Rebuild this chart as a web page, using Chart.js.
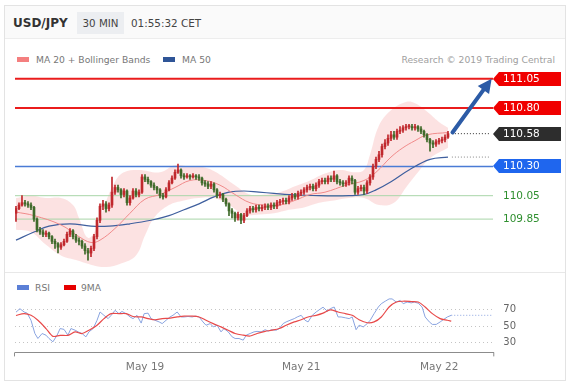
<!DOCTYPE html>
<html>
<head>
<meta charset="utf-8">
<script src="https://cdn.jsdelivr.net/npm/chart.js@4.4.0/dist/chart.umd.min.js"></script>
<style>
  body { margin: 0; background: #fff; font-family: "DejaVu Sans", sans-serif; }
  #wrap { position: relative; width: 569px; height: 386px; overflow: hidden; }
  .card { position: absolute; left: 4px; top: 5px; width: 562px; height: 376px; box-sizing: border-box; border: 1px solid #e3e3e3; }
  .head { position: absolute; left: 5px; top: 6px; width: 560px; height: 32px; background: #fafafa; border-bottom: 1px solid #ededed; }
  .sep { position: absolute; left: 5px; top: 272px; width: 560px; height: 1px; background: #e8e8e8; }
  .t { position: absolute; white-space: nowrap; line-height: 1; }
  .sw { position: absolute; height: 5px; width: 12px; }
  .tf { position: absolute; left: 77px; top: 12px; width: 47px; height: 22px; background: #eceef1; color: #444; font-size: 10.3px; display: flex; align-items: center; justify-content: center; }
  canvas { position: absolute; left: 0; }
</style>
</head>
<body>
<div id="wrap">
  <div class="card"></div>
  <div class="head"></div>
  <div class="sep"></div>
  <div class="t" style="left:13px;top:17px;font-size:12px;font-weight:bold;color:#333;">USD/JPY</div>
  <div class="tf">30 MIN</div>
  <div class="t" style="left:131px;top:18px;font-size:10.4px;color:#444;">01:55:32 CET</div>

  <div class="sw" style="left:17px;top:57px;background:#f47f7f;"></div>
  <div class="t" style="left:36px;top:55px;font-size:9.2px;color:#777;">MA 20 + Bollinger Bands</div>
  <div class="sw" style="left:163px;top:57px;background:#2f5597;"></div>
  <div class="t" style="left:182px;top:55px;font-size:9.2px;color:#777;">MA 50</div>
  <div class="t" style="right:14px;top:55px;font-size:9.2px;color:#a0a0a0;">Research © 2019 Trading Central</div>

  <div class="sw" style="left:17px;top:285px;background:#5b7fd6;"></div>
  <div class="t" style="left:35px;top:283px;font-size:9.2px;color:#777;">RSI</div>
  <div class="sw" style="left:64px;top:285px;background:#e60000;"></div>
  <div class="t" style="left:81px;top:283px;font-size:9.2px;color:#777;">9MA</div>

  <canvas id="price" width="569" height="224" style="top:48px"></canvas>
  <canvas id="rsi" width="569" height="108" style="top:275px"></canvas>
</div>
<script>
// 30 min candles, index 0..144
const firstOpen = 109.90;
const closes = [
  109.94,109.97,109.99,109.98,109.97,109.95,109.85,109.76,109.74,109.72,
  109.73,109.70,109.66,109.64,109.61,109.63,109.66,109.72,109.75,109.70,
  109.67,109.66,109.62,109.58,109.56,109.60,109.70,109.84,109.96,109.98,
  109.94,109.97,110.08,110.12,110.10,110.06,110.09,109.99,110.03,110.09,
  110.06,110.08,110.21,110.19,110.17,110.14,110.12,110.10,110.05,110.04,
  110.10,110.16,110.20,110.25,110.27,110.22,110.21,110.22,110.21,110.22,
  110.21,110.20,110.16,110.15,110.13,110.15,110.10,110.05,110.06,110.02,
  109.98,109.92,109.90,109.86,109.89,109.84,109.88,109.92,109.94,109.93,
  109.95,109.94,109.95,109.96,109.95,109.97,109.96,109.99,110.00,110.01,
  110.00,110.03,110.05,110.04,110.07,110.08,110.10,110.12,110.13,110.11,
  110.14,110.17,110.18,110.17,110.20,110.19,110.22,110.17,110.16,110.15,
  110.16,110.20,110.18,110.08,110.11,110.12,110.09,110.16,110.21,110.30,
  110.36,110.40,110.47,110.50,110.54,110.57,110.55,110.60,110.61,110.63,
  110.64,110.64,110.63,110.64,110.62,110.60,110.57,110.53,110.50,110.49,
  110.51,110.52,110.53,110.55,110.58
];
const highs = [
  109.96,109.99,110.05,110.01,110.00,109.99,109.96,109.86,109.78,109.76,
  109.75,109.74,109.71,109.68,109.65,109.65,109.68,109.74,109.77,109.76,
  109.72,109.69,109.67,109.64,109.60,109.62,109.72,109.86,109.98,110.01,
  110.00,109.99,110.21,110.14,110.14,110.11,110.11,110.10,110.05,110.11,
  110.11,110.10,110.23,110.23,110.21,110.18,110.16,110.13,110.11,110.07,
  110.12,110.18,110.22,110.27,110.32,110.28,110.24,110.24,110.23,110.24,
  110.23,110.23,110.21,110.18,110.17,110.17,110.16,110.11,110.08,110.07,
  110.03,109.99,109.94,109.91,109.91,109.90,109.90,109.94,109.96,109.96,
  109.97,109.97,109.97,109.98,109.98,109.99,109.99,110.01,110.02,110.03,
  110.03,110.05,110.07,110.07,110.09,110.10,110.12,110.14,110.15,110.15,
  110.16,110.19,110.20,110.20,110.22,110.22,110.26,110.23,110.19,110.18,
  110.18,110.22,110.22,110.19,110.13,110.14,110.14,110.18,110.23,110.32,
  110.38,110.43,110.49,110.53,110.57,110.60,110.60,110.62,110.64,110.65,
  110.66,110.66,110.66,110.66,110.65,110.64,110.61,110.58,110.54,110.52,
  110.53,110.54,110.55,110.57,110.60
];
const lows = [
  109.83,109.93,109.96,109.96,109.95,109.93,109.83,109.74,109.72,109.70,
  109.70,109.68,109.64,109.60,109.56,109.59,109.62,109.65,109.70,109.68,
  109.65,109.63,109.60,109.55,109.50,109.53,109.58,109.68,109.82,109.93,
  109.91,109.92,109.95,110.06,110.08,110.03,110.04,109.97,109.97,110.02,
  110.04,110.04,110.07,110.17,110.15,110.12,110.10,110.07,110.03,110.02,
  110.03,110.09,110.15,110.19,110.24,110.20,110.19,110.20,110.19,110.20,
  110.19,110.18,110.14,110.13,110.11,110.11,110.08,110.03,110.03,110.00,
  109.96,109.88,109.86,109.83,109.84,109.81,109.82,109.87,109.90,109.91,
  109.91,109.92,109.92,109.93,109.93,109.93,109.94,109.94,109.97,109.98,
  109.98,109.98,110.01,110.02,110.02,110.05,110.06,110.08,110.10,110.09,
  110.09,110.12,110.15,110.15,110.15,110.17,110.17,110.15,110.14,110.13,
  110.13,110.14,110.15,110.06,110.06,110.09,110.06,110.07,110.14,110.19,
  110.28,110.34,110.38,110.45,110.48,110.52,110.53,110.53,110.58,110.59,
  110.61,110.62,110.61,110.61,110.60,110.58,110.55,110.51,110.43,110.46,
  110.47,110.49,110.50,110.51,110.54
];

// Bollinger bands, MA20, MA50 (candle index, price)
const upperX = [0,5,10,15,19,21,24,27,30,33,36,41,48,53,58,63,68,73,78,83,88,93,98,103,108,113,116,118,121,125,130,133,137,141,144];
const upperY = [110.03,110.05,110.03,110.03,109.97,109.86,109.69,109.78,110.00,110.17,110.25,110.27,110.25,110.31,110.30,110.29,110.23,110.14,110.06,110.06,110.08,110.13,110.18,110.24,110.27,110.25,110.27,110.40,110.65,110.78,110.85,110.84,110.77,110.68,110.63];
const lowerX = [0,5,10,15,20,25,30,35,40,43,46,51,56,61,66,71,76,81,86,91,96,101,106,111,116,121,126,130,134,138,144];
const lowerY = [109.76,109.74,109.63,109.54,109.50,109.46,109.44,109.47,109.54,109.71,109.86,109.97,110.01,110.03,110.03,109.97,109.89,109.89,109.90,109.93,109.95,109.99,110.01,110.03,110.03,109.97,109.99,110.12,110.25,110.37,110.46];
const ma20X = [0,6,15,21,25,28,33,38,43,48,53,58,63,68,73,78,83,88,93,98,103,110,116,120,125,129,133,137,144];
const ma20Y = [109.91,109.88,109.80,109.70,109.65,109.67,109.77,109.90,110.02,110.06,110.12,110.18,110.18,110.14,110.06,109.99,109.97,109.97,110.01,110.06,110.08,110.14,110.18,110.25,110.38,110.46,110.52,110.57,110.59];
const ma50X = [0,6,11,18,25,31,38,45,51,56,61,66,71,76,81,86,91,101,111,116,120,125,131,138,144];
const ma50Y = [109.67,109.74,109.79,109.81,109.79,109.79,109.81,109.84,109.88,109.93,109.98,110.04,110.08,110.09,110.08,110.07,110.06,110.05,110.05,110.06,110.10,110.17,110.27,110.36,110.38];

// key levels and the projected move
const levels = [111.05, 110.80, 110.30, 110.05, 109.85];
const levelColors = ['#ea1c1c', '#ea1c1c', '#4a7bd5', '#a8d5a8', '#a8d5a8'];
const levelWidths = [2, 2, 1.5, 1, 1];
const lastPrice = 110.58;
const lastMa50 = 110.38;
const arrowFrom = { x: 145.5, y: 110.59 };
const arrowTo = { x: 156, y: 110.96 };
const tagValues = [111.05, 110.80, 110.58, 110.30, 110.05, 109.85];
const tagFill = ['#f00000', '#f00000', '#2d2d2d', '#1f66ee', null, null];
const tagText = ['#fff', '#fff', '#fff', '#fff', '#2f8f2f', '#2f8f2f'];

// RSI(14) and its 9 period MA
const rsiX = [0,1.3,2.7,3.7,5,6.3,7.3,8.7,10,11,12.3,13.7,14.7,16,17.3,18.3,19.7,20.7,22,23.3,24.3,25.7,27,28,29.3,30.7,31.7,33,34.3,35.3,36.7,38,39,40.3,41.7,42.7,44,45,46.3,47.7,48.7,50,51.3,52.3,53.7,55,56,57.3,58.7,59.7,61,62.3,63.3,64.7,65.7,67,68.3,69.3,70.7,72,73,74.3,75.7,76.7,78,79.3,80.3,81.7,83,84,85.3,86.7,87.7,89,90,91.3,92.7,93.7,95,96.3,97.3,98.7,100,101,102.3,103.7,104.7,106,107.3,108.3,109.7,111,112,113.3,114.3,115.7,117,118,119.3,120.7,121.7,123,124.3,125.3,126.7,128,129,130.3,131.7,132.7,134,135.3,136.3,137.7,138.7,140,141.3,142.3,143.7,145];
const rsiY = [66.8,71,67,65.6,57,41,35,41,39,35,31,39,47,46,39,47,45,43,41,37,43,47,57,67,63,59,63,69,65,67.6,65,61,59,63,53.6,65,65.6,59,57,55,53,57,61,63,67,61,61,61.6,61,62,61,55,51,53,49,51,43,47,43,37,35,35,33,39,41,43,43.6,43,45.6,44,45.6,45,47,53,55,57,59,61,63,57,55,63,67,69.6,72.8,68,71,73,61,61,60,59,61,45.6,51,49,53,57,65,73,77,80,82.8,82.8,79,81,77,79,78,79,77.6,73,61,55,52,52,55,57.6,61,63];
const ma9X = [0,2.7,5,7.3,10,12.3,14.7,17.3,19.7,22,24.3,27,29.3,31.7,34.3,36.7,39,41.7,44,46.3,48.7,51.3,53.7,56,58.7,61,63.3,65.7,68.3,70.7,73,75.7,78,80.3,83,85.3,87.7,90,92.7,95,97.3,100,102.3,104.7,107.3,109.7,112,114.3,117,119.3,121.7,124.3,126.7,129,131.7,134,136.3,138.7,141.3,143.7,145];
const ma9Y = [62.8,65,63,57,47,37.6,38.8,38.8,43,41,45,51,59,65,65,65,61.6,61,59,57.6,59,59.6,61,62,62,61,57,53,49,45,41,39,38,41,43.6,45,47,51,55,57.6,61,63,65.6,69.6,67,65,63,57.6,54,55,61,73,79,80,79.6,79,73,65,59,57,56];
const rsiTicks = [30, 50, 70];

// x axis
const dayTickIdx = [43, 95, 141];
const dayTickLabels = ['May 19', 'May 21', 'May 22'];
const xMin = -0.33, xMax = 159;

const upColor = '#c0282d', downColor = '#3f6a2a';
const opens = closes.map((c, i) => i === 0 ? firstOpen : closes[i - 1]);
const candleColors = closes.map((c, i) => c >= opens[i] ? upColor : downColor);
const pts = (xs, ys) => xs.map((x, i) => ({ x: x, y: ys[i] }));

const markers = {
  id: 'markers',
  afterDatasetsDraw(chart) {
    const { ctx, chartArea, scales: { y } } = chart;
    // arrow head
    const p = chart.getDatasetMeta(0).data;
    const a = p[0], b = p[p.length - 1];
    const ang = Math.atan2(b.y - a.y, b.x - a.x);
    ctx.save();
    ctx.fillStyle = '#2c5ba6';
    ctx.translate(b.x, b.y);
    ctx.rotate(ang);
    ctx.beginPath();
    ctx.moveTo(13, 0);
    ctx.lineTo(-1, -7);
    ctx.lineTo(-1, 7);
    ctx.closePath();
    ctx.fill();
    ctx.restore();

    // price tags on the right
    ctx.save();
    ctx.font = '10.5px "DejaVu Sans"';
    ctx.textBaseline = 'middle';
    tagValues.forEach((v, i) => {
      const py = Math.round(y.getPixelForValue(v));
      const x0 = chartArea.right;
      if (tagFill[i]) {
        ctx.fillStyle = tagFill[i];
        ctx.beginPath();
        ctx.moveTo(x0, py);
        ctx.lineTo(x0 + 6, py - 7);
        ctx.lineTo(x0 + 68, py - 7);
        ctx.lineTo(x0 + 68, py + 7);
        ctx.lineTo(x0 + 6, py + 7);
        ctx.closePath();
        ctx.fill();
      }
      ctx.fillStyle = tagText[i];
      ctx.fillText(v.toFixed(2), x0 + 10, py + 0.5);
    });
    ctx.restore();
  }
};

const lineDs = (data, color, width, extra) => Object.assign({
  type: 'line', data: data, borderColor: color, borderWidth: width,
  pointRadius: 0, fill: false, tension: 0
}, extra || {});

const datasets = [
  lineDs([arrowFrom, arrowTo], '#2c5ba6', 4, { borderCapStyle: 'round' }),
  {
    type: 'bar', data: closes.map((c, i) => ({ x: i, y: [opens[i], c] })),
    backgroundColor: candleColors, barThickness: 2, grouped: false, minBarLength: 1
  },
  {
    type: 'bar', data: closes.map((c, i) => ({ x: i, y: [lows[i], highs[i]] })),
    backgroundColor: candleColors, barThickness: 1, grouped: false
  },
  lineDs(pts(ma20X, ma20Y), '#f08a8a', 1, { tension: 0.4 }),
  lineDs(pts(ma50X, ma50Y), '#3f5f9e', 1.2, { tension: 0.4 }),
  lineDs([{ x: 145.3, y: lastPrice }, { x: 158.3, y: lastPrice }], '#333', 1, { borderDash: [1, 2] }),
  lineDs([{ x: 145.3, y: lastMa50 }, { x: 158.3, y: lastMa50 }], '#888', 1, { borderDash: [1, 2] })
];
levels.forEach((v, i) => {
  datasets.push(lineDs([{ x: xMin, y: v }, { x: xMax, y: v }], levelColors[i], levelWidths[i]));
});
datasets.push(lineDs(pts(upperX, upperY), 'rgba(0,0,0,0)', 0, { tension: 0.4, fill: '+1', backgroundColor: 'rgba(245,160,160,0.3)' }));
datasets.push(lineDs(pts(lowerX, lowerY), 'rgba(0,0,0,0)', 0, { tension: 0.4 }));

new Chart(document.getElementById('price').getContext('2d'), {
  type: 'bar',
  data: { datasets: datasets },
  options: {
    responsive: false,
    animation: false,
    events: [],
    layout: { padding: { left: 15, right: 76, top: 0, bottom: 0 } },
    plugins: { legend: { display: false }, tooltip: { enabled: false } },
    scales: {
      x: { type: 'linear', min: xMin, max: xMax, offset: false, display: false },
      y: { min: 109.398, max: 111.312, display: false }
    }
  },
  plugins: [markers]
});

const bracket = {
  id: 'bracket',
  afterDraw(chart) {
    const { ctx, chartArea: a } = chart;
    ctx.save();
    ctx.strokeStyle = '#8c8c8c';
    ctx.lineWidth = 1;
    ctx.beginPath();
    ctx.moveTo(a.left - 0.5, a.bottom);
    ctx.lineTo(a.left - 0.5, a.bottom + 4);
    ctx.moveTo(a.right + 0.5, a.bottom);
    ctx.lineTo(a.right + 0.5, a.bottom + 4);
    ctx.stroke();
    ctx.restore();
  }
};

new Chart(document.getElementById('rsi').getContext('2d'), {
  type: 'line',
  data: {
    datasets: [
      lineDs(pts(ma9X, ma9Y), '#e84a4a', 1.2, { tension: 0.3 }),
      lineDs(pts(rsiX, rsiY), '#8aa4e0', 1),
      lineDs([{ x: 145, y: 63 }, { x: xMax, y: 63 }], '#8aa4e0', 1, { borderDash: [1, 2] })
    ]
  },
  options: {
    responsive: false,
    animation: false,
    events: [],
    layout: { padding: { left: 15, right: 43, top: 15, bottom: 0 } },
    plugins: { legend: { display: false }, tooltip: { enabled: false } },
    scales: {
      x: {
        type: 'linear', min: xMin, max: xMax, offset: false,
        grid: { display: false, drawTicks: false },
        border: { display: true, color: '#8c8c8c', width: 1 },
        afterBuildTicks: (ax) => { ax.ticks = dayTickIdx.map(v => ({ value: v })); },
        ticks: {
          padding: 9, color: '#777', maxRotation: 0, autoSkip: false,
          font: { family: '"DejaVu Sans"', size: 10.5 },
          callback: (v) => dayTickLabels[dayTickIdx.indexOf(v)]
        }
      },
      y: {
        position: 'right', min: 18.2, max: 92.35,
        grid: { color: '#c4c4c4', drawTicks: false },
        border: { display: false, dash: [1, 3] },
        afterBuildTicks: (ax) => { ax.ticks = rsiTicks.map(v => ({ value: v })); },
        ticks: { padding: 10, color: '#666', font: { family: '"DejaVu Sans"', size: 10 } }
      }
    }
  },
  plugins: [bracket]
});
</script>
</body>
</html>
